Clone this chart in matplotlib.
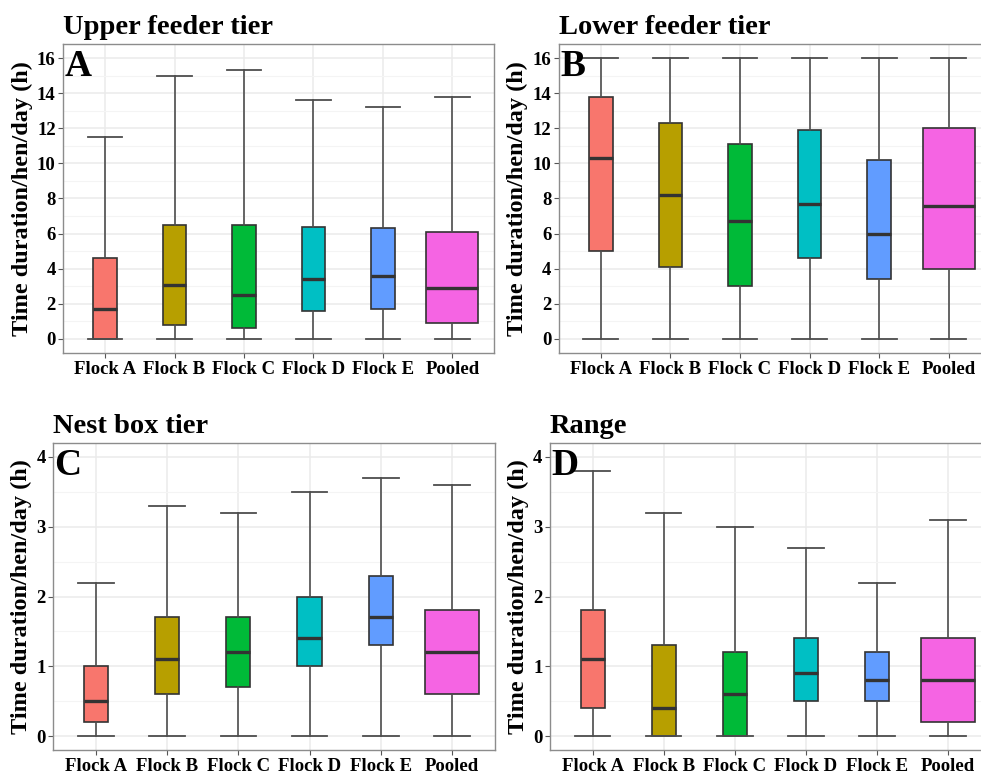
import matplotlib
matplotlib.use("Agg")
import matplotlib.pyplot as plt
from matplotlib.ticker import MultipleLocator

plt.rcParams['font.family'] = ['Liberation Serif', 'DejaVu Serif']
plt.rcParams['font.weight'] = 'bold'

# categories and fill colours (ggplot hue palette)
groups = ["Flock A", "Flock B", "Flock C", "Flock D", "Flock E", "Pooled"]
fills = ["#F8766D", "#B79F00", "#00BA38", "#00BFC4", "#619CFF", "#F564E3"]

# box stats per group: (lower whisker, q1, median, q3, upper whisker)
upper_feeder = [(0, 0.0, 1.7, 4.6, 11.5), (0, 0.8, 3.1, 6.5, 15.0), (0, 0.6, 2.5, 6.5, 15.3),
                (0, 1.6, 3.4, 6.4, 13.6), (0, 1.7, 3.6, 6.3, 13.2), (0, 0.9, 2.9, 6.1, 13.8)]
lower_feeder = [(0, 5.0, 10.3, 13.8, 16), (0, 4.1, 8.2, 12.3, 16), (0, 3.0, 6.7, 11.1, 16),
                (0, 4.6, 7.7, 11.9, 16), (0, 3.4, 6.0, 10.2, 16), (0, 4.0, 7.6, 12.0, 16)]
nest_box = [(0, 0.2, 0.5, 1.0, 2.2), (0, 0.6, 1.1, 1.7, 3.3), (0, 0.7, 1.2, 1.7, 3.2),
            (0, 1.0, 1.4, 2.0, 3.5), (0, 1.3, 1.7, 2.3, 3.7), (0, 0.6, 1.2, 1.8, 3.6)]
range_area = [(0, 0.4, 1.1, 1.8, 3.8), (0, 0.0, 0.4, 1.3, 3.2), (0, 0.0, 0.6, 1.2, 3.0),
              (0, 0.5, 0.9, 1.4, 2.7), (0, 0.5, 0.8, 1.2, 2.2), (0, 0.2, 0.8, 1.4, 3.1)]

panels = [
    ("Upper feeder tier", "A", upper_feeder, 16, 2, [0.0646, 0.5422, 0.4390, 0.4007]),
    ("Lower feeder tier", "B", lower_feeder, 16, 2, [0.5698, 0.5422, 0.4400, 0.4007]),
    ("Nest box tier", "C", nest_box, 4, 1, [0.0543, 0.0272, 0.4500, 0.3982]),
    ("Range", "D", range_area, 4, 1, [0.5607, 0.0272, 0.4490, 0.3982]),
]

fig = plt.figure(figsize=(9.81, 7.71), dpi=100)

for title, letter, data, ymax, step, pos in panels:
    ax = fig.add_axes(pos)
    stats = []
    for name, (lo, q1, med, q3, hi) in zip(groups, data):
        stats.append({"label": name, "whislo": lo, "q1": q1, "med": med, "q3": q3, "whishi": hi, "fliers": []})
    widths = [0.34] * 5 + [0.75]
    bp = ax.bxp(stats, positions=range(1, 7), widths=widths, patch_artist=True,
                showfliers=False, capwidths=0.5,
                boxprops=dict(edgecolor="#333333", linewidth=1.2),
                medianprops=dict(color="#333333", linewidth=2.4),
                whiskerprops=dict(color="#4d4d4d", linewidth=1.2),
                capprops=dict(color="#4d4d4d", linewidth=1.3))
    for patch, c in zip(bp["boxes"], fills):
        patch.set_facecolor(c)
        patch.set_zorder(3)
    for k in ("medians", "whiskers", "caps"):
        for ln in bp[k]:
            ln.set_zorder(4)

    pad = ymax * 0.05
    ax.set_ylim(-pad, ymax + pad)
    ax.set_xlim(0.4, 6.6)
    ax.yaxis.set_major_locator(MultipleLocator(step))
    ax.yaxis.set_minor_locator(MultipleLocator(step / 2))
    ax.grid(True, which="major", color="#ebebeb", linewidth=1.1, zorder=0)
    ax.grid(True, which="minor", axis="y", color="#f4f4f4", linewidth=0.8, zorder=0)
    ax.set_axisbelow(True)
    ax.tick_params(which="minor", length=0)
    ax.tick_params(which="major", length=3.5, color="#555555", labelsize=13.5, pad=2)
    for s in ax.spines.values():
        s.set_color("#8c8c8c")
        s.set_linewidth(1.0)
    ax.set_xticks(range(1, 7))
    ax.set_xticklabels(groups, fontweight="bold")
    for t in ax.get_yticklabels():
        t.set_fontweight("bold")
    ax.set_ylabel("Time duration/hen/day (h)", fontsize=17.5, fontweight="bold", labelpad=3)
    ax.set_title(title, loc="left", fontsize=20.5, fontweight="bold", pad=7)
    ax.text(0.003, 0.985, letter, transform=ax.transAxes, ha="left", va="top",
            fontsize=27, fontweight="bold", zorder=6)

fig.savefig("out.png", dpi=100, facecolor="white")
